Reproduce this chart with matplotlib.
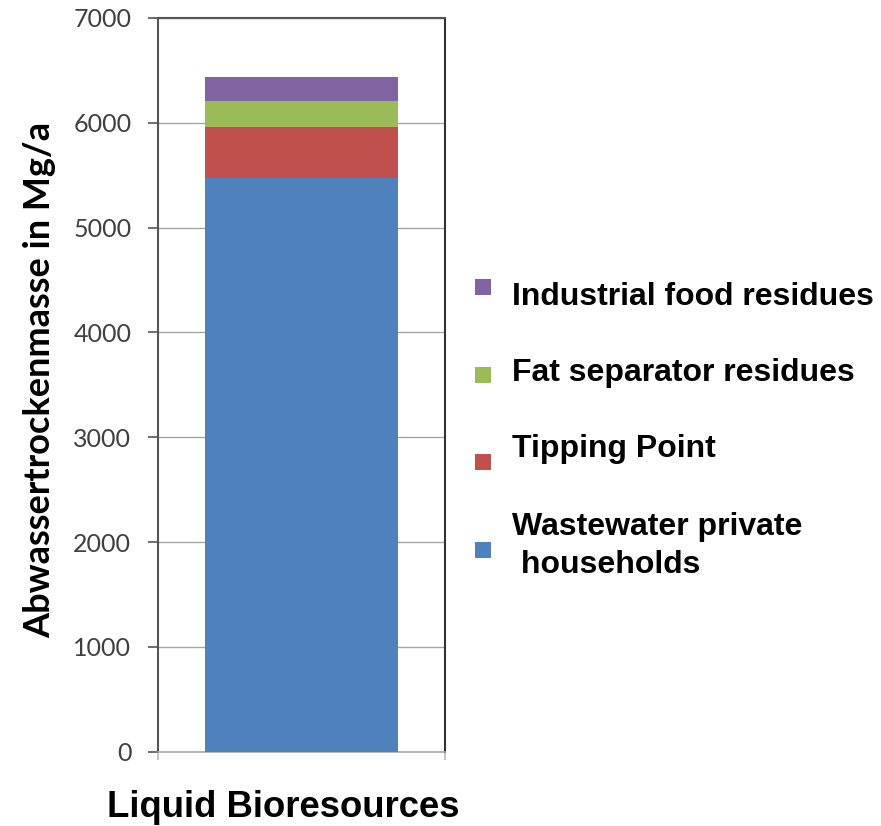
import matplotlib
matplotlib.use("Agg")
import matplotlib.pyplot as plt
from matplotlib.patches import Rectangle
import numpy as np

# Data
category = ["Liquid Bioresources"]
series_names = [
    "Wastewater private\n households",
    "Tipping Point",
    "Fat separator residues",
    "Industrial food residues",
]
series_values = [5470, 490, 250, 230]
series_colors = ["#4F81BD", "#C0504D", "#9BBB59", "#8064A2"]
y_ticks = [0, 1000, 2000, 3000, 4000, 5000, 6000, 7000]

W, H = 881, 826
fig = plt.figure(figsize=(W / 100, H / 100), dpi=100)
ax = fig.add_axes([158 / W, 1 - 751.7 / H, (445 - 158) / W, (751.7 - 18) / H])

# Stacked bar
bottom = 0
for name, val, col in zip(series_names, series_values, series_colors):
    ax.bar(0, val, width=0.671, bottom=bottom, color=col, edgecolor="none", zorder=3)
    bottom += val

ax.set_xlim(-0.5, 0.5)
ax.set_ylim(0, 7000)
ax.set_yticks(y_ticks)
ax.set_yticklabels([str(t) for t in y_ticks], fontfamily="Lato", fontsize=18, color="#404040")
ax.tick_params(axis="y", direction="out", length=7.2, width=1.2, color="#555555", pad=12)
ax.set_xticks([-0.5, 0.5])
ax.set_xticklabels([])
ax.tick_params(axis="x", direction="out", length=6, width=1.2, color="#BBBBBB")

ax.yaxis.grid(True, color="#A6A6A6", linewidth=1.0, zorder=0)
ax.set_axisbelow(True)

for side in ("left", "top"):
    ax.spines[side].set_color("#555555")
    ax.spines[side].set_linewidth(1.5)
ax.spines["right"].set_color("#333333")
ax.spines["right"].set_linewidth(1.5)
ax.spines["bottom"].set_color("#AAAAAA")
ax.spines["bottom"].set_linewidth(1.2)

# Axis titles
fig.text(40 / W, 1 - 380 / H, "Abwassertrockenmasse in Mg/a", rotation=90,
         ha="center", va="center", fontfamily="Lato", fontweight="bold",
         fontsize=26, color="black")
fig.text(283 / W, 1 - 817 / H, category[0], ha="center", va="baseline",
         fontfamily="Liberation Sans", fontweight="bold", fontsize=26.3, color="black")

# Legend (top to bottom: reverse stacking order)
marker_y = [550, 462, 374.8, 286.8]
text_baselines = [[535, 573.3], [457.3], [380.7], [305]]
for name, col, my, bls in zip(series_names, series_colors, marker_y, text_baselines):
    fig.patches.append(Rectangle((475 / W, 1 - (my + 7.8) / H), 15.6 / W, 15.6 / H,
                                 transform=fig.transFigure, facecolor=col,
                                 edgecolor="none", figure=fig))
    for line, bl in zip(name.split("\n"), bls):
        fig.text(512 / W, 1 - bl / H, line, ha="left", va="baseline",
                 fontfamily="Liberation Sans", fontweight="bold", fontsize=23,
                 color="black")

fig.savefig("out.png", dpi=100, facecolor="white")
